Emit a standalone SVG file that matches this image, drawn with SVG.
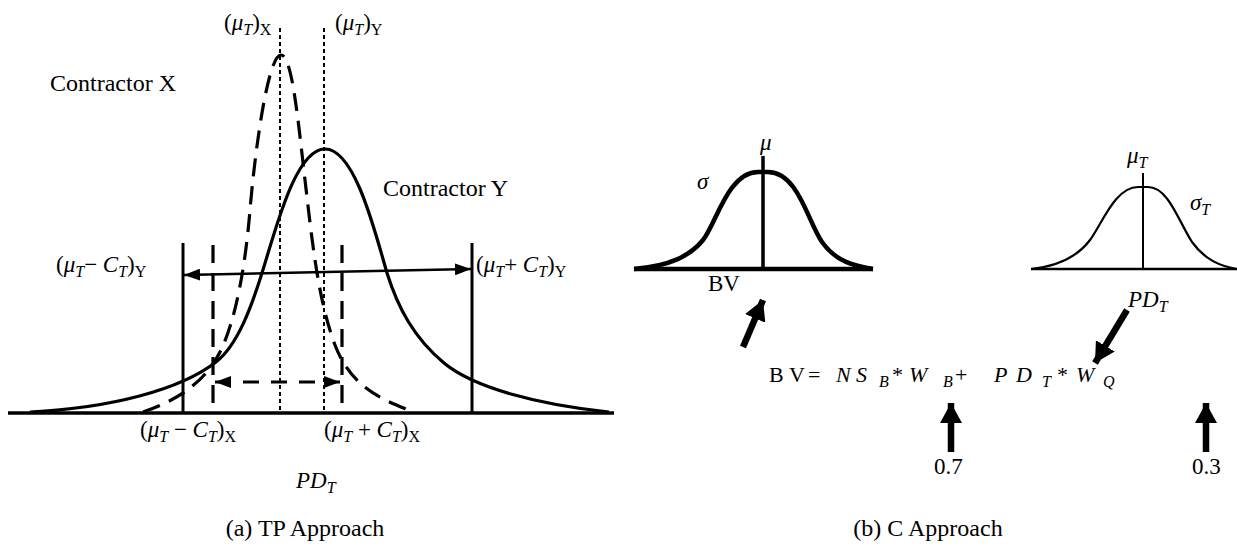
<svg xmlns="http://www.w3.org/2000/svg" width="1237" height="547" viewBox="0 0 1237 547" font-family="'Liberation Serif', 'DejaVu Serif', serif">
<defs>
<style>
text{fill:#000;font-size:23px}
.i{font-style:italic}
.sub{font-size:16px}
.big{font-size:24px}
.cap{font-size:24px}
.eq{font-size:22px}
.ln{fill:none;stroke:#000}
.solid{stroke-width:3.2}
.dash{stroke-width:3.2;stroke-dasharray:18 10}
.dot{stroke-width:2;stroke-dasharray:4 3}
.thick{stroke-width:6.5}
</style>
<marker id="ah" viewBox="0 0 16 12" refX="16" refY="6" markerWidth="16" markerHeight="12" markerUnits="userSpaceOnUse" orient="auto-start-reverse"><path d="M0,0 L16,6 L0,12 z" fill="#000"/></marker>
<marker id="bh" viewBox="0 0 20 22" refX="20" refY="11" markerWidth="20" markerHeight="22" markerUnits="userSpaceOnUse" orient="auto"><path d="M0,0 L20,11 L0,22 z" fill="#000"/></marker>
</defs>
<rect width="1237" height="547" fill="#fff"/>

<g id="panel-a">
<g id="axis-a"><line class="ln" x1="8" y1="413" x2="614" y2="413" stroke-width="3.5"/></g>
<g id="mean-lines">
<line class="ln dot" x1="280" y1="28" x2="280" y2="413"/>
<line class="ln dot" x1="324" y1="28" x2="324" y2="413"/>
</g>
<g id="curve-y"><path class="ln solid" d="M30,412 C110,408 180,390 216,362 C238,345 252,305 262,273 C275,232 295,149 325,149 C355,149 375,232 387,273 C398,308 414,338 444,363 C474,388 540,405 609,412"/></g>
<g id="curve-x"><path class="ln dash" d="M143,412 C178,400 205,382 220,352 C235,322 245,270 250,210 C255,150 268,55 281,55 C292,55 298,120 305,180 C312,240 318,300 335,345 C352,390 385,400 413,412"/></g>
<g id="limits-y">
<line class="ln" x1="183" y1="243" x2="183" y2="413" stroke-width="3"/>
<line class="ln" x1="472" y1="243" x2="472" y2="413" stroke-width="3"/>
</g>
<g id="limits-x">
<line class="ln dash" x1="213" y1="245" x2="213" y2="413"/>
<line class="ln dash" x1="342" y1="245" x2="342" y2="413"/>
</g>
<g id="connectors-a">
<line class="ln" x1="184" y1="275" x2="471" y2="269" stroke-width="2.5" marker-start="url(#ah)" marker-end="url(#ah)"/>
<line class="ln" x1="215" y1="382" x2="340" y2="382" stroke-width="3" stroke-dasharray="16 12" marker-start="url(#ah)" marker-end="url(#ah)"/>
</g>
<g id="labels-a">
<text x="224" y="30">(<tspan class="i">μ</tspan><tspan class="i sub" dy="5">T</tspan><tspan dy="-5">)</tspan><tspan class="sub" dy="5">X</tspan></text>
<text x="335" y="30">(<tspan class="i">μ</tspan><tspan class="i sub" dy="5">T</tspan><tspan dy="-5">)</tspan><tspan class="sub" dy="5">Y</tspan></text>
<text class="big" x="50" y="91">Contractor X</text>
<text class="big" x="383" y="196">Contractor Y</text>
<text x="56" y="272">(<tspan class="i">μ</tspan><tspan class="i sub" dy="5">T</tspan><tspan dy="-5">− </tspan><tspan class="i">C</tspan><tspan class="i sub" dy="5">T</tspan><tspan dy="-5">)</tspan><tspan class="sub" dy="5">Y</tspan></text>
<text x="476" y="272">(<tspan class="i">μ</tspan><tspan class="i sub" dy="5">T</tspan><tspan dy="-5">+ </tspan><tspan class="i">C</tspan><tspan class="i sub" dy="5">T</tspan><tspan dy="-5">)</tspan><tspan class="sub" dy="5">Y</tspan></text>
<text x="140" y="437">(<tspan class="i">μ</tspan><tspan class="i sub" dy="5">T</tspan><tspan dy="-5"> − </tspan><tspan class="i">C</tspan><tspan class="i sub" dy="5">T</tspan><tspan dy="-5">)</tspan><tspan class="sub" dy="5">X</tspan></text>
<text x="324" y="437">(<tspan class="i">μ</tspan><tspan class="i sub" dy="5">T</tspan><tspan dy="-5"> + </tspan><tspan class="i">C</tspan><tspan class="i sub" dy="5">T</tspan><tspan dy="-5">)</tspan><tspan class="sub" dy="5">X</tspan></text>
<text x="296" y="488"><tspan class="i">PD</tspan><tspan class="i sub" dy="5">T</tspan></text>
<text class="cap" x="305" y="536" text-anchor="middle">(a) TP Approach</text>
</g>
</g>

<g id="panel-b">
<g id="bv-dist">
<line class="ln" x1="634" y1="269" x2="873" y2="269" stroke-width="4.5"/>
<line class="ln" x1="763" y1="156" x2="763" y2="269" stroke-width="3.5"/>
<path class="ln" stroke-width="4.5" d="M634,269 C670,266 690,256 703,240 C716,224 728,172 758,172 L768,172 C798,172 808,222 822,242 C836,262 855,266 873,269"/>
<text class="i" x="697" y="189">σ</text>
<text class="i" x="760" y="150">μ</text>
<text x="708" y="291">BV</text>
</g>
<g id="pd-dist">
<line class="ln" x1="1031" y1="269" x2="1237" y2="269" stroke-width="2.5"/>
<line class="ln" x1="1143" y1="173" x2="1143" y2="269" stroke-width="2"/>
<path class="ln" stroke-width="2.2" d="M1031,269 C1060,266 1078,256 1090,240 C1102,224 1115,187 1138,187 L1148,187 C1168,187 1178,220 1192,242 C1205,260 1220,266 1237,269"/>
<text class="i" x="1127" y="163">μ<tspan class="sub" dy="5">T</tspan></text>
<text class="i" x="1190" y="210">σ<tspan class="sub" dy="5">T</tspan></text>
<text class="i" x="1128" y="307">PD<tspan class="sub" dy="5">T</tspan></text>
</g>
<g id="equation">
<text class="eq" x="769" y="382">B</text>
<text class="eq" x="789" y="382">V</text>
<text class="eq" x="808" y="382">=</text>
<text class="eq i" x="836" y="382">N</text>
<text class="eq i" x="856" y="382">S</text>
<text class="i sub" x="879" y="387">B</text>
<text class="eq" x="892" y="382">*</text>
<text class="eq i" x="909" y="382">W</text>
<text class="i sub" x="943" y="387">B</text>
<text class="eq" x="955" y="382">+</text>
<text class="eq i" x="994" y="382">P</text>
<text class="eq i" x="1016" y="382">D</text>
<text class="i sub" x="1042" y="387">T</text>
<text class="eq" x="1057" y="382">*</text>
<text class="eq i" x="1076" y="382">W</text>
<text class="i sub" x="1103" y="387">Q</text>
</g>
<g id="weights">
<text x="934" y="474">0.7</text>
<text x="1192" y="474">0.3</text>
</g>
<g id="connectors-b">
<line class="ln thick" x1="743" y1="347" x2="763" y2="300" marker-end="url(#bh)"/>
<line class="ln thick" x1="1127" y1="310" x2="1095" y2="363" marker-end="url(#bh)"/>
<line class="ln thick" x1="951" y1="452" x2="951" y2="403" marker-end="url(#bh)"/>
<line class="ln thick" x1="1206" y1="452" x2="1206" y2="403" marker-end="url(#bh)"/>
</g>
<text class="cap" x="928" y="536" text-anchor="middle">(b) C Approach</text>
</g>
</svg>
